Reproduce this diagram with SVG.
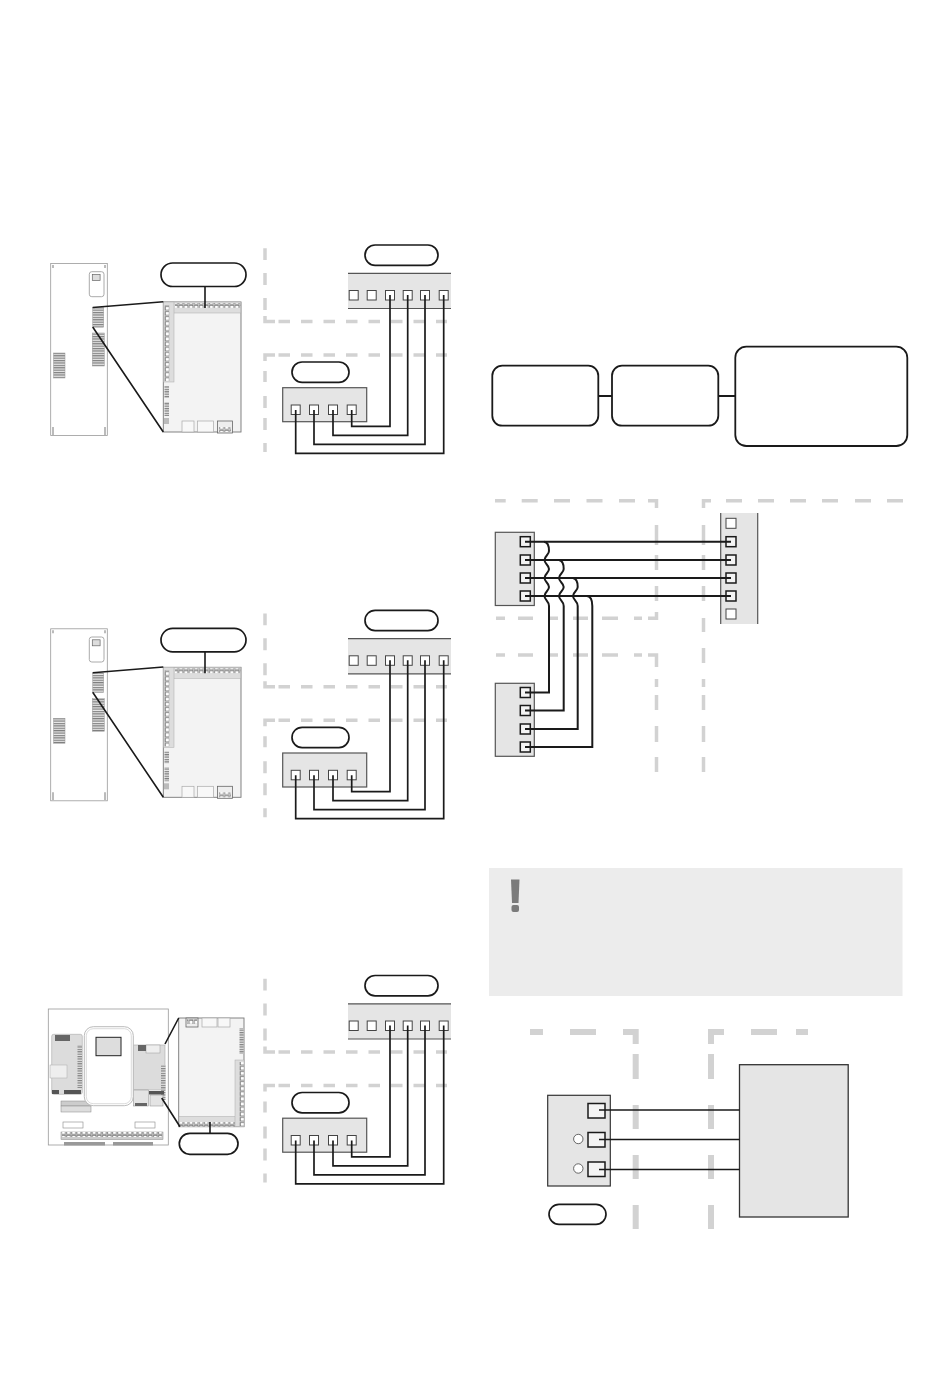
<svg xmlns="http://www.w3.org/2000/svg" xmlns:xlink="http://www.w3.org/1999/xlink" width="950" height="1387" viewBox="0 0 950 1387">
<style>
.dash{fill:none;stroke:#d2d2d2;stroke-width:3.5}
.dash6{fill:none;stroke:#d2d2d2;stroke-width:6}
.wire{fill:none;stroke:#1a1a1a;stroke-width:1.7}
.bw{fill:none;stroke:#1a1a1a;stroke-width:2}
.leader{fill:none;stroke:#1a1a1a;stroke-width:1.6}
.pill{fill:#fff;stroke:#1a1a1a;stroke-width:1.7}
.box{fill:#e5e5e5;stroke:#555;stroke-width:1.2}
.sq{fill:#fff;stroke:#444;stroke-width:1}
.sqk{fill:#f4f4f4;stroke:#1a1a1a;stroke-width:1.5}
.rr{fill:#fff;stroke:#1a1a1a;stroke-width:1.8}
.thin{fill:#fff;stroke:#999;stroke-width:.8}
.pale{fill:#f3f3f3;stroke:#777;stroke-width:.9}
.mid{fill:#ddd;stroke:#aaa;stroke-width:.5}
.gr{fill:url(#rows);stroke:#999;stroke-width:.5}
.hp{fill:url(#hpins);stroke:none}
.vp{fill:url(#vpins);stroke:none}
</style>
<defs>
<pattern id="rows" width="4" height="2.4" patternUnits="userSpaceOnUse"><rect width="4" height="2.4" fill="#e6e6e6"/><rect width="4" height="1.2" fill="#808080"/></pattern>
<pattern id="hpins" width="5.1" height="5" patternUnits="userSpaceOnUse"><rect x=".6" y=".6" width="3.6" height="3.6" fill="#fff" stroke="#777" stroke-width=".7"/></pattern>
<pattern id="vpins" width="5" height="5.1" patternUnits="userSpaceOnUse"><rect x=".6" y=".6" width="3.6" height="3.6" fill="#fff" stroke="#777" stroke-width=".7"/></pattern>
<g id="cabinet">
<rect class="thin" x="50.7" y="263.5" width="56.6" height="172"/>
<path d="M52 265h2v3h-2zM104 265h2v3h-2zM52 427h2v8h-2zM104 427h2v8h-2z" fill="#bbb"/>
<rect x="89.3" y="271.7" width="14.7" height="25" rx="2.5" fill="#fff" stroke="#aaa"/>
<rect x="92.3" y="274.5" width="7.8" height="6" fill="#ddd" stroke="#666" stroke-width=".7"/>
<rect class="gr" x="92.7" y="307.7" width="11" height="19.5"/>
<rect class="gr" x="92.3" y="333" width="12" height="33"/>
<rect class="gr" x="53.5" y="353" width="11.5" height="25"/>
</g>
<g id="board">
<rect class="pale" x="163.3" y="302" width="77.7" height="130"/>
<rect class="mid" x="163.5" y="302" width="77.3" height="11"/>
<rect class="mid" x="163.5" y="302" width="10.5" height="80"/>
<rect class="hp" x="175" y="303" width="65.5" height="4.8"/>
<rect class="vp" x="164.5" y="305" width="4.8" height="76"/>
<rect x="164.5" y="386" width="4.5" height="12" fill="url(#rows)"/>
<rect x="164.5" y="402" width="4.5" height="14" fill="url(#rows)"/>
<rect x="164" y="418" width="5" height="6" fill="#bbb"/>
<rect x="182" y="421" width="12" height="11" fill="#f8f8f8" stroke="#aaa" stroke-width=".7"/>
<rect x="197.5" y="421" width="16" height="11" fill="#f8f8f8" stroke="#aaa" stroke-width=".7"/>
<rect x="217.5" y="421" width="15" height="12" fill="#eee" stroke="#666" stroke-width=".8"/>
<rect class="hp" x="219" y="427" width="12" height="5"/>
</g>
<g id="board-flip">
<rect class="pale" x="178.7" y="1018" width="65.3" height="108.700"/>
<rect class="mid" x="179" y="1116.500" width="65" height="10"/>
<rect class="mid" x="235" y="1060" width="9" height="66.500"/>
<rect class="hp" x="180" y="1122" width="55" height="4.400"/>
<rect class="vp" x="239.500" y="1062" width="4.400" height="64"/>
<rect x="239.500" y="1028" width="4" height="26" fill="url(#rows)"/>
<rect x="186" y="1018" width="12" height="9" fill="#eee" stroke="#666" stroke-width=".8"/>
<rect class="hp" x="187" y="1019" width="10" height="5"/>
<rect x="202" y="1018" width="15" height="9" fill="#f8f8f8" stroke="#aaa" stroke-width=".7"/>
<rect x="218" y="1018" width="12" height="9" fill="#f8f8f8" stroke="#aaa" stroke-width=".7"/>
</g>
<g id="wiring">
<path class="dash" d="M265 248.300V260M265 273V285M265 298V310M265 316V321.500H275M278.500 321.500H290M301 321.500H312.500M323.500 321.500H335M346 321.500H357.500M368.500 321.500H380M391 321.500H402.500M413.500 321.500H425M436 321.500H447"/>
<path class="dash" d="M265 452V443M265 430V418M265 408V396M265 382V371M265 361V355H275M278.500 355H290M301 355H312.500M323.500 355H335M346 355H357.500M368.500 355H380M391 355H402.500M413.500 355H425M436 355H447"/>
<rect class="box" x="282.700" y="387.700" width="84" height="34"/>
<rect x="348" y="273.300" width="103" height="35.200" fill="#e5e5e5"/>
<path d="M348 273.300H451M348 308.500H451" stroke="#555" stroke-width="1.200" fill="none"/>
<rect class="sq" x="349.200" y="290.500" width="9" height="9.500"/>
<rect class="sq" x="367.200" y="290.500" width="9" height="9.500"/>
<rect class="sq" x="385.500" y="290.500" width="9" height="9.500"/>
<rect class="sq" x="403.200" y="290.500" width="9" height="9.500"/>
<rect class="sq" x="420.500" y="290.500" width="9" height="9.500"/>
<rect class="sq" x="439.200" y="290.500" width="9" height="9.500"/>
<rect class="sq" x="291.200" y="405" width="9" height="9.500"/>
<rect class="sq" x="309.500" y="405" width="9" height="9.500"/>
<rect class="sq" x="328.500" y="405" width="9" height="9.500"/>
<rect class="sq" x="347.200" y="405" width="9" height="9.500"/>
<path class="wire" d="M351.700 410V426.300H390V295M333 410V435.300H407.700V295M314 410V444.300H425V295M295.700 410V453.300H443.700V295"/>
<rect class="pill" x="365" y="245" width="73" height="20.300" rx="10.100"/>
<rect class="pill" x="292" y="362" width="57" height="20.300" rx="10.100"/>
</g>
</defs>

<g id="section-1">
<g id="cabinet-1"><use href="#cabinet"/></g>
<g id="board-1"><use href="#board"/></g>
<path class="leader" d="M92.700 307.500L163.300 301.700M92.700 327L163.300 432M205 286.700V308"/>
<rect id="pill-1" class="pill" x="161" y="263" width="85" height="23.500" rx="11.700"/>
<g id="wiring-1"><use href="#wiring"/></g>
</g>

<g id="section-2">
<g id="cabinet-2"><use href="#cabinet" y="365.300"/></g>
<g id="board-2"><use href="#board" y="365.300"/></g>
<path class="leader" d="M92.700 672.800L163.300 667M92.700 692.300L163.300 797.300M205 652V673.300"/>
<rect id="pill-2" class="pill" x="161" y="628.300" width="85" height="23.500" rx="11.700"/>
<g id="wiring-2"><use href="#wiring" y="365.300"/></g>
</g>

<g id="section-3">
<g id="unit-3">
<rect class="thin" x="48.300" y="1009" width="120" height="136"/>
<rect x="51.700" y="1034.300" width="30.600" height="60" rx="2" fill="#dcdcdc" stroke="#aaa" stroke-width=".6"/>
<rect x="50" y="1065" width="17" height="13" fill="#eee" stroke="#aaa" stroke-width=".5"/>
<rect x="55" y="1035" width="15" height="6" fill="#666"/>
<rect x="77.500" y="1045" width="4.500" height="43" fill="url(#rows)"/>
<rect x="52" y="1090" width="7" height="4" fill="#555"/>
<rect x="64" y="1090" width="17" height="4" fill="#555"/>
<rect x="133.300" y="1045" width="31.700" height="45" fill="#dcdcdc" stroke="#aaa" stroke-width=".6"/>
<rect x="146" y="1045" width="14" height="8" fill="#eee" stroke="#999" stroke-width=".5"/>
<rect x="138" y="1045" width="8" height="6" fill="#666"/>
<rect x="161" y="1065" width="4.500" height="35" fill="url(#rows)"/>
<rect x="133.300" y="1090" width="15" height="16" fill="#e4e4e4" stroke="#888" stroke-width=".5"/>
<rect x="135" y="1103" width="12" height="3" fill="#666"/>
<rect x="150" y="1095" width="13" height="11" fill="#e4e4e4" stroke="#888" stroke-width=".5"/>
<rect x="149" y="1091" width="15" height="3.500" fill="#555"/>
<rect x="61" y="1101" width="30" height="5" fill="#ccc" stroke="#888" stroke-width=".5"/>
<rect x="61" y="1106" width="30" height="6" fill="#ddd" stroke="#888" stroke-width=".5"/>
<rect x="84.300" y="1026.700" width="49" height="79" rx="9" fill="#fff" stroke="#bbb"/>
<rect x="86.300" y="1028.700" width="45" height="75" rx="7" fill="#fff" stroke="#ccc" stroke-width=".7"/>
<rect x="96" y="1037.300" width="25" height="18.400" fill="#ddd" stroke="#222" stroke-width="1"/>
<rect x="63" y="1122" width="20" height="6" fill="#fff" stroke="#888" stroke-width=".6"/>
<rect x="135" y="1122" width="20" height="6" fill="#fff" stroke="#888" stroke-width=".6"/>
<rect x="61" y="1132" width="102" height="7.500" fill="#ccc" stroke="#888" stroke-width=".5"/>
<rect class="hp" x="62" y="1132" width="100" height="5"/>
<rect x="64" y="1142" width="41" height="3.500" fill="#999"/>
<rect x="113" y="1142" width="40" height="3.500" fill="#999"/>
</g>
<g id="board-3"><use href="#board-flip"/></g>
<path class="leader" d="M165 1044L178.700 1018M161.700 1098L180 1126.700M210 1122V1133"/>
<rect id="pill-3" class="pill" x="179.300" y="1133.300" width="58.700" height="21" rx="10.500"/>
<g id="wiring-3"><use href="#wiring" y="730.500"/></g>
</g>

<g id="flow">
<g id="flow-box-1"><rect class="rr" x="492.300" y="365.700" width="106" height="60" rx="10"/></g>
<g id="flow-box-2"><rect class="rr" x="612" y="365.700" width="106.300" height="60" rx="10"/></g>
<g id="flow-box-3"><rect class="rr" x="735.300" y="346.700" width="172" height="99.300" rx="11"/></g>
<path class="bw" d="M598.300 396H612M718.300 396H735.300"/>
</g>

<g id="bus">
<path class="dash" d="M495 500.700H505.700M521.700 500.700H537.700M554 500.700H570M586.500 500.700H602.500M619 500.700H635M648 500.700H656.500V508M656.500 525V545M656.500 555V570M656.500 586V601M656.500 612V618.300H648M642 618.300H634M618 618.300H602M588 618.300H573M558 618.300H550M533 618.300H518M505 618.300H496"/>
<path class="dash" d="M496 655H505M518 655H533M550 655H558M573 655H588M602 655H618M634 655H642M648 655H656.500V667M656.500 679V687M656.500 695V710M656.500 726V742M656.500 757V772"/>
<path class="dash" d="M703.500 772V757M703.500 742V726M703.500 710V695M703.500 687V679M703.500 663V648M703.500 632V618M703.500 601V586M703.500 570V555M703.500 545V525M703.500 508V500.700H711M726 500.700H742M758 500.700H774M790 500.700H806M822 500.700H838M855 500.700H871M887 500.700H903"/>
<g id="bus-a">
<rect class="box" x="495.300" y="532.300" width="39" height="73.200"/>
<rect class="sqk" x="520.300" y="536.700" width="10" height="10"/>
<rect class="sqk" x="520.300" y="555" width="10" height="10"/>
<rect class="sqk" x="520.300" y="573" width="10" height="10"/>
<rect class="sqk" x="520.300" y="591" width="10" height="10"/>
</g>
<g id="bus-b">
<rect class="box" x="495.300" y="683.300" width="39" height="73"/>
<rect class="sqk" x="520.300" y="687.500" width="10" height="10"/>
<rect class="sqk" x="520.300" y="705.500" width="10" height="10"/>
<rect class="sqk" x="520.300" y="724" width="10" height="10"/>
<rect class="sqk" x="520.300" y="742" width="10" height="10"/>
</g>
<g id="bus-strip">
<rect x="720.700" y="513" width="37" height="111" fill="#e5e5e5"/>
<path d="M720.700 513V624M757.700 513V624" stroke="#555" stroke-width="1.200" fill="none"/>
<rect class="sq" x="726" y="518.300" width="10" height="10"/>
<rect class="sqk" x="726" y="536.700" width="10" height="10"/>
<rect class="sqk" x="726" y="555" width="10" height="10"/>
<rect class="sqk" x="726" y="573" width="10" height="10"/>
<rect class="sqk" x="726" y="591" width="10" height="10"/>
<rect class="sq" x="726" y="609" width="10" height="10"/>
</g>
<g id="bus-wires">
<path class="bw" d="M525 541.700H731M525 560H731M525 578H731M525 596H731"/>
<path class="bw" d="M544 541.700C547.500 542 549 546 549 551C549 555 544.500 556 544.500 560C544.500 564 549 565 549 569C549 573 544.500 574 544.500 578C544.500 582 549 583 549 587C549 591 544.500 592 544.500 596C544.500 600 549 601 549 606V692.500H525"/>
<path class="bw" d="M558.700 560C562 560.300 563.700 564 563.700 569C563.700 573 559 574 559 578C559 582 563.700 583 563.700 587C563.700 591 559 592 559 596C559 600 563.700 601 563.700 606V710.500H525"/>
<path class="bw" d="M572.700 578C576 578.300 577.700 582 577.700 587C577.700 591 573 592 573 596C573 600 577.700 601 577.700 606V729H525"/>
<path class="bw" d="M587 596C590.500 596.300 592.300 600 592.300 606V747H525"/>
</g>
</g>

<g id="note">
<rect x="489" y="868" width="413.500" height="128" fill="#ececec"/>
<path d="M511 879.500H519.500L518.500 903H512Z" fill="#7b7b7b"/>
<rect x="511.500" y="905" width="7.500" height="7" rx="2" fill="#7b7b7b"/>
</g>

<g id="connection">
<path class="dash6" d="M530 1032H543M570 1032H596M623 1032H635.700V1044M635.700 1054V1079M635.700 1105V1129M635.700 1155V1179M635.700 1205V1229"/>
<path class="dash6" d="M711 1229V1205M711 1179V1155M711 1129V1105M711 1079V1054M711 1044V1032H724M751 1032H777M796 1032H808"/>
<g id="terminal">
<rect x="547.700" y="1095.300" width="62.600" height="90.700" fill="#e5e5e5" stroke="#333" stroke-width="1.200"/>
<rect class="sqk" x="588" y="1103.500" width="17" height="14.500"/>
<rect class="sqk" x="588" y="1132.500" width="17" height="14.500"/>
<rect class="sqk" x="588" y="1162" width="17" height="14.500"/>
<circle cx="578.300" cy="1139" r="4.700" fill="#fff" stroke="#444" stroke-width=".8"/>
<circle cx="578.300" cy="1168.500" r="4.700" fill="#fff" stroke="#444" stroke-width=".8"/>
</g>
<g id="block"><rect x="739.500" y="1064.700" width="108.700" height="152.300" fill="#e5e5e5" stroke="#333" stroke-width="1.300"/></g>
<path class="wire" d="M599 1110H739.500M599 1139.500H739.500M599 1169.500H739.500"/>
<rect id="pill-4" class="pill" x="549" y="1204.300" width="57" height="20" rx="10"/>
</g>
</svg>
